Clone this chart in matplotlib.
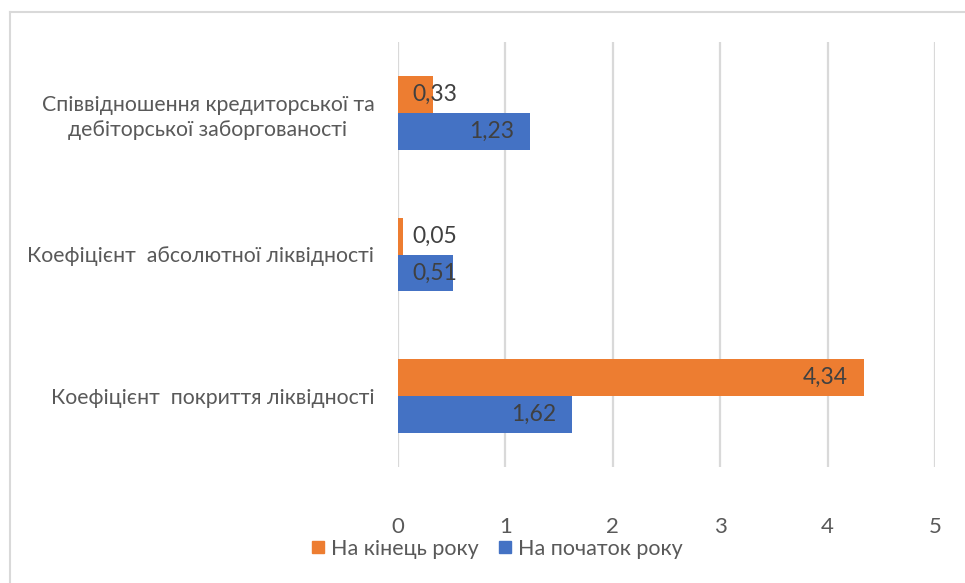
import matplotlib
matplotlib.use("Agg")
import matplotlib.pyplot as plt
from matplotlib.lines import Line2D
import numpy as np

plt.rcParams['font.family'] = ['Lato', 'DejaVu Sans']

categories = ["Коефіцієнт  покриття ліквідності",
              "Коефіцієнт  абсолютної ліквідності",
              "Співвідношення кредиторської та\nдебіторської заборгованості"]
end_of_year = [4.34, 0.05, 0.33]
start_of_year = [1.62, 0.51, 1.23]
series_names = ["На кінець року", "На початок року"]
xticks = [0, 1, 2, 3, 4, 5]

orange = "#ED7D31"
blue = "#4472C4"
grid_c = "#D9D9D9"
txt_c = "#595959"
lbl_c = "#404040"

fig = plt.figure(figsize=(9.65, 5.83), dpi=100)
ax = fig.add_axes([398/965, 116/583, 537/965, 425/583])

y = np.arange(len(categories))
h = 0.26
ax.barh(y + h/2, end_of_year, height=h, color=orange, zorder=3)
ax.barh(y - h/2, start_of_year, height=h, color=blue, zorder=3)

ax.set_xlim(0, 5)
ax.set_ylim(-0.5, 2.5)
ax.set_xticks(xticks)
ax.set_xticklabels([str(t) for t in xticks])
ax.set_yticks(y)
ax.set_yticklabels(categories, multialignment='center', linespacing=1.35)
ax.tick_params(axis='x', length=0, pad=36, labelsize=16, labelcolor=txt_c)
ax.tick_params(axis='y', length=0, pad=17, labelsize=15.3, labelcolor=txt_c)
for s in ax.spines.values():
    s.set_visible(False)
ax.grid(axis='x', color=grid_c, linewidth=1.6, zorder=0)

# value labels: inside end, pushed right when the bar is too short
label_w = 0.40
for vals, ys in ((end_of_year, y + h/2), (start_of_year, y - h/2)):
    for v, yy in zip(vals, ys):
        s = f"{v:.2f}".replace(".", ",")
        if v - 0.15 - label_w < 0.13:
            ax.text(0.13, yy, s, ha='left', va='center', fontsize=16.5, color=lbl_c, zorder=4)
        else:
            ax.text(v - 0.15, yy, s, ha='right', va='center', fontsize=16.5, color=lbl_c, zorder=4)

handles = [Line2D([], [], marker='s', linestyle='', markersize=8, color=orange),
           Line2D([], [], marker='s', linestyle='', markersize=8, color=blue)]
fig.legend(handles, series_names, loc='center', bbox_to_anchor=(496/965, 34/583),
           ncol=2, frameon=False, fontsize=15.5, labelcolor=txt_c,
           handletextpad=0.2, columnspacing=0.8, handlelength=0.8)

# chart area border (top and left edges)
fig.add_artist(Line2D([10/965, 1], [1 - 12/583, 1 - 12/583], color=grid_c, linewidth=1.5))
fig.add_artist(Line2D([10/965, 10/965], [0, 1 - 12/583], color=grid_c, linewidth=1.5))

fig.savefig("out.png", dpi=100)
